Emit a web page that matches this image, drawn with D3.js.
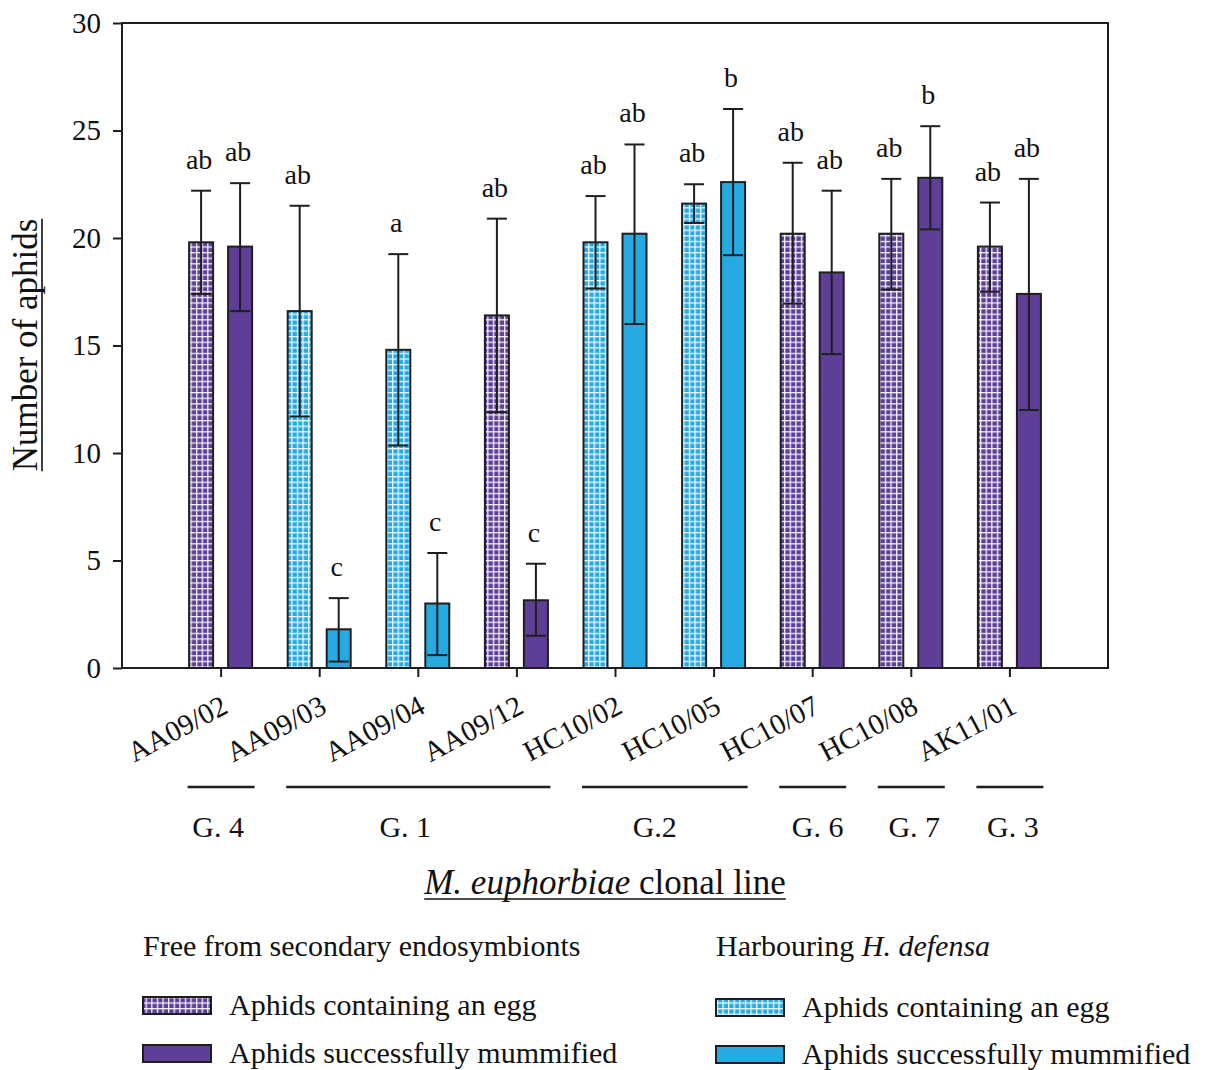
<!DOCTYPE html>
<html>
<head>
<meta charset="utf-8">
<script src="https://cdn.jsdelivr.net/npm/d3@7"></script>
<style>
  html, body { margin: 0; padding: 0; background: #fff; }
  svg text { font-family: "Liberation Serif", "Times New Roman", serif; fill: #111; }
</style>
</head>
<body>
<svg id="chart" width="1211" height="1070"></svg>
<script>
// Clonal lines of M. euphorbiae
const categories = ["AA09/02", "AA09/03", "AA09/04", "AA09/12", "HC10/02", "HC10/05", "HC10/07", "HC10/08", "AK11/01"];
// true = line harbours H. defensa, false = free from secondary endosymbionts
const harboursHdefensa = [false, true, true, false, true, true, false, false, false];

// Aphids containing an egg: mean and error-bar limits
const eggMean = [19.8, 16.6, 14.8, 16.4, 19.8, 21.6, 20.2, 20.2, 19.6];
const eggLow  = [17.4, 11.7, 10.35, 11.9, 17.65, 20.7, 16.95, 17.6, 17.5];
const eggHigh = [22.2, 21.5, 19.25, 20.9, 21.95, 22.5, 23.5, 22.75, 21.65];
const eggLetters = ["ab", "ab", "a", "ab", "ab", "ab", "ab", "ab", "ab"];

// Aphids successfully mummified: mean and error-bar limits
const mumMean = [19.6, 1.8, 3.0, 3.15, 20.2, 22.6, 18.4, 22.8, 17.4];
const mumLow  = [16.6, 0.3, 0.6, 1.5, 16.0, 19.2, 14.6, 20.4, 12.0];
const mumHigh = [22.55, 3.25, 5.35, 4.85, 24.35, 26.0, 22.2, 25.2, 22.75];
const mumLetters = ["ab", "c", "c", "c", "ab", "b", "ab", "b", "ab"];

// Genotype groups spanning consecutive clonal lines
const groupLabels = ["G. 4", "G. 1", "G.2", "G. 6", "G. 7", "G. 3"];
const groupFirst  = ["AA09/02", "AA09/03", "HC10/02", "HC10/07", "HC10/08", "AK11/01"];
const groupLast   = ["AA09/02", "AA09/12", "HC10/05", "HC10/07", "HC10/08", "AK11/01"];

const yTicks = [0, 5, 10, 15, 20, 25, 30];

const PURPLE = "#5e3f97";
const BLUE = "#27aae1";
const INK = "#1e1e1e";

// horizontal nudges for the group captions (layout only)
const groupLabelNudge = [-3, -13, -10, 5, 3, 3];

const svg = d3.select("#chart");

// grid fill for the "containing an egg" bars
const defs = svg.append("defs");
function gridPattern(id, color) {
  const p = defs.append("pattern").attr("id", id)
    .attr("patternUnits", "userSpaceOnUse").attr("width", 5.6).attr("height", 5.6);
  p.append("rect").attr("width", 5.6).attr("height", 5.6).attr("fill", color);
  p.append("rect").attr("x", 0).attr("y", 0).attr("width", 1.3).attr("height", 5.6).attr("fill", "#fff").attr("opacity", 0.9);
  p.append("rect").attr("x", 0).attr("y", 0).attr("width", 5.6).attr("height", 1.3).attr("fill", "#fff").attr("opacity", 0.9);
}
gridPattern("gridPurple", PURPLE);
gridPattern("gridBlue", BLUE);

const plotLeft = 122, plotRight = 1108, plotTop = 23, plotBottom = 668;

const x = d3.scalePoint().domain(categories).range([plotLeft, plotRight]).padding(1);
const y = d3.scaleLinear().domain([0, 30]).range([plotBottom, plotTop]);

const barW = 24, off = 19.5;

// frame
svg.append("rect").attr("x", plotLeft).attr("y", plotTop)
  .attr("width", plotRight - plotLeft).attr("height", plotBottom - plotTop)
  .attr("fill", "none").attr("stroke", INK).attr("stroke-width", 2);

// y axis
const yAxis = svg.append("g").attr("transform", `translate(${plotLeft},0)`)
  .call(d3.axisLeft(y).tickValues(yTicks).tickSize(9).tickPadding(12));
yAxis.select(".domain").remove();
yAxis.selectAll("line").attr("stroke", INK).attr("stroke-width", 2);
yAxis.selectAll("text").attr("font-size", 29).attr("font-family", "Liberation Serif, serif").attr("fill", "#111");

// x axis ticks
const xAxis = svg.append("g").attr("transform", `translate(0,${plotBottom})`)
  .call(d3.axisBottom(x).tickSize(9).tickFormat(""));
xAxis.select(".domain").remove();
xAxis.selectAll("line").attr("stroke", INK).attr("stroke-width", 2);

// category labels, rotated
svg.append("g").selectAll("text").data(categories).join("text")
  .attr("transform", d => `translate(${x(d) + 9},712) rotate(-28)`)
  .attr("text-anchor", "end")
  .attr("font-size", 29)
  .text(d => d);

// bars
const rows = categories.map((c, i) => ({
  c, i, hd: harboursHdefensa[i],
  egg: { m: eggMean[i], lo: eggLow[i], hi: eggHigh[i], l: eggLetters[i] },
  mum: { m: mumMean[i], lo: mumLow[i], hi: mumHigh[i], l: mumLetters[i] }
}));

const marks = [];
rows.forEach(r => {
  marks.push({ cx: x(r.c) - off, v: r.egg, fill: r.hd ? "url(#gridBlue)" : "url(#gridPurple)" });
  marks.push({ cx: x(r.c) + off, v: r.mum, fill: r.hd ? BLUE : PURPLE });
});

const bars = svg.append("g");
bars.selectAll("rect").data(marks).join("rect")
  .attr("x", d => d.cx - barW / 2)
  .attr("y", d => y(d.v.m))
  .attr("width", barW)
  .attr("height", d => y(0) - y(d.v.m))
  .attr("fill", d => d.fill)
  .attr("stroke", INK).attr("stroke-width", 2);

// error bars
const err = svg.append("g").attr("stroke", INK).attr("stroke-width", 2);
err.selectAll("line.v").data(marks).join("line").attr("class", "v")
  .attr("x1", d => d.cx).attr("x2", d => d.cx)
  .attr("y1", d => y(d.v.lo)).attr("y2", d => y(d.v.hi));
err.selectAll("line.hi").data(marks).join("line").attr("class", "hi")
  .attr("x1", d => d.cx - 10).attr("x2", d => d.cx + 10)
  .attr("y1", d => y(d.v.hi)).attr("y2", d => y(d.v.hi));
err.selectAll("line.lo").data(marks).join("line").attr("class", "lo")
  .attr("x1", d => d.cx - 10).attr("x2", d => d.cx + 10)
  .attr("y1", d => y(d.v.lo)).attr("y2", d => y(d.v.lo));

// significance letters
svg.append("g").selectAll("text").data(marks).join("text")
  .attr("x", d => d.cx - 2)
  .attr("y", d => y(d.v.hi) - 22)
  .attr("text-anchor", "middle")
  .attr("font-size", 28)
  .text(d => d.v.l);

// genotype groups
const gData = groupLabels.map((g, i) => ({ g, i, x1: x(groupFirst[i]) - 33, x2: x(groupLast[i]) + 34 }));
const gg = svg.append("g");
gg.selectAll("line").data(gData).join("line")
  .attr("x1", d => d.x1).attr("x2", d => d.x2)
  .attr("y1", 787).attr("y2", 787)
  .attr("stroke", INK).attr("stroke-width", 2.5);
gg.selectAll("text").data(gData).join("text")
  .attr("x", d => (d.x1 + d.x2) / 2 + groupLabelNudge[d.i])
  .attr("y", 837)
  .attr("text-anchor", "middle")
  .attr("font-size", 30)
  .text(d => d.g);

// x axis title
const xt = svg.append("text").attr("x", 605).attr("y", 894)
  .attr("text-anchor", "middle").attr("font-size", 35);
xt.append("tspan").attr("font-style", "italic").text("M. euphorbiae");
xt.append("tspan").text(" clonal line");
{
  const len = xt.node().getComputedTextLength();
  svg.append("line").attr("x1", 605 - len / 2).attr("x2", 605 + len / 2)
    .attr("y1", 899).attr("y2", 899).attr("stroke", "#111").attr("stroke-width", 1.6);
}

// y axis title
const yt = svg.append("text")
  .attr("transform", "translate(37,345) rotate(-90)")
  .attr("text-anchor", "middle").attr("font-size", 35)
  .text("Number of aphids");
{
  const len = yt.node().getComputedTextLength();
  svg.append("line").attr("x1", 42).attr("x2", 42)
    .attr("y1", 345 - len / 2).attr("y2", 345 + len / 2)
    .attr("stroke", "#111").attr("stroke-width", 1.6);
}

// legend
const legendTitles = ["Free from secondary endosymbionts", "Harbouring "];
const legendItems = ["Aphids containing an egg", "Aphids successfully mummified"];
const legendCols = [
  { x: 143, titleY: 956, rows: [1015, 1063], fills: ["url(#gridPurple)", PURPLE] },
  { x: 716, titleY: 956, rows: [1017, 1064], fills: ["url(#gridBlue)", BLUE] }
];
legendCols.forEach((col, ci) => {
  const t = svg.append("text").attr("x", col.x).attr("y", col.titleY).attr("font-size", 30);
  t.append("tspan").text(legendTitles[ci]);
  if (ci === 1) t.append("tspan").attr("font-style", "italic").text("H. defensa");
  col.rows.forEach((by, ri) => {
    svg.append("rect").attr("x", col.x).attr("y", by - 18)
      .attr("width", 68).attr("height", 17)
      .attr("fill", col.fills[ri]).attr("stroke", INK).attr("stroke-width", 2);
    svg.append("text").attr("x", col.x + 86).attr("y", by)
      .attr("font-size", 30).text(legendItems[ri]);
  });
});
</script>
</body>
</html>
